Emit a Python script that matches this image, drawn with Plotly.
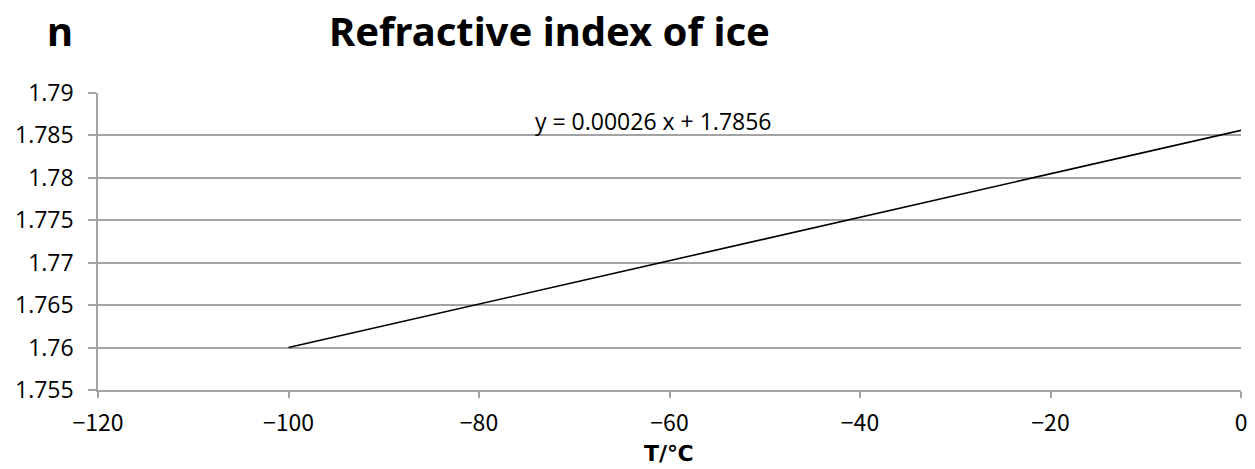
import plotly.graph_objects as go

# Data
temps_c = [-100, 0]
n_values = [1.76, 1.7856]
x_ticks = [-120, -100, -80, -60, -40, -20, 0]
y_ticks = [1.755, 1.76, 1.765, 1.77, 1.775, 1.78, 1.785, 1.79]
x_tick_labels = ["\u2212120", "\u2212100", "\u221280", "\u221260", "\u221240", "\u221220", "0"]
y_tick_labels = ["1.755", "1.76", "1.765", "1.77", "1.775", "1.78", "1.785", "1.79"]
title_text = "Refractive index of ice"
y_label = "n"
x_label = "T/\u2103"
equation = "y = 0.00026 x + 1.7856"

grid_col = "#A3A3A3"

fig = go.Figure()
fig.add_trace(go.Scatter(
    x=temps_c, y=n_values, mode="lines",
    line=dict(color="black", width=1.6),
    showlegend=False, hoverinfo="skip",
))

fig.update_layout(
    width=1255, height=469,
    margin=dict(l=98, r=8, t=93, b=79),
    paper_bgcolor="white", plot_bgcolor="white",
    font=dict(family="Open Sans", color="black"),
    annotations=[
        dict(text="<b>" + title_text + "</b>", xref="paper", yref="paper",
             x=(552 - 98) / 1149, y=1, yshift=63, xanchor="center", yanchor="middle",
             showarrow=False, font=dict(family="Noto Sans", size=40, color="black")),
        dict(text="<b>" + y_label + "</b>", xref="paper", yref="paper",
             x=(60 - 98) / 1149, y=1, yshift=63, xanchor="center", yanchor="middle",
             showarrow=False, font=dict(family="Noto Sans", size=40, color="black")),
        dict(text=equation, xref="paper", yref="paper",
             x=(656 - 98) / 1149, y=1, yshift=-28, xanchor="center", yanchor="middle",
             showarrow=False, font=dict(family="Open Sans", size=23, color="black")),
        dict(text="<b>" + x_label + "</b>", xref="paper", yref="paper",
             x=(672 - 98) / 1149, y=0, yshift=-78, xanchor="center", yanchor="bottom",
             showarrow=False, font=dict(family="DejaVu Sans", size=22, color="black")),
    ],
)

fig.update_xaxes(
    range=[-120, 0], tickmode="array", tickvals=x_ticks, ticktext=x_tick_labels,
    showgrid=False, zeroline=False,
    showline=True, linecolor=grid_col, linewidth=1.5,
    ticks="outside", ticklen=6, tickwidth=1.5, tickcolor=grid_col,
    ticklabelstandoff=6,
    tickfont=dict(family="Noto Sans CJK JP", size=23, color="black"),
)
fig.update_yaxes(
    range=[1.755, 1.79], tickmode="array", tickvals=y_ticks, ticktext=y_tick_labels,
    showgrid=True, gridcolor=grid_col, gridwidth=1.5, zeroline=False,
    showline=True, linecolor=grid_col, linewidth=1.5,
    ticks="outside", ticklen=8, tickwidth=1.5, tickcolor=grid_col,
    ticklabelstandoff=10,
    tickfont=dict(family="Open Sans", size=23, color="black"),
)

fig.write_html("out.html")
